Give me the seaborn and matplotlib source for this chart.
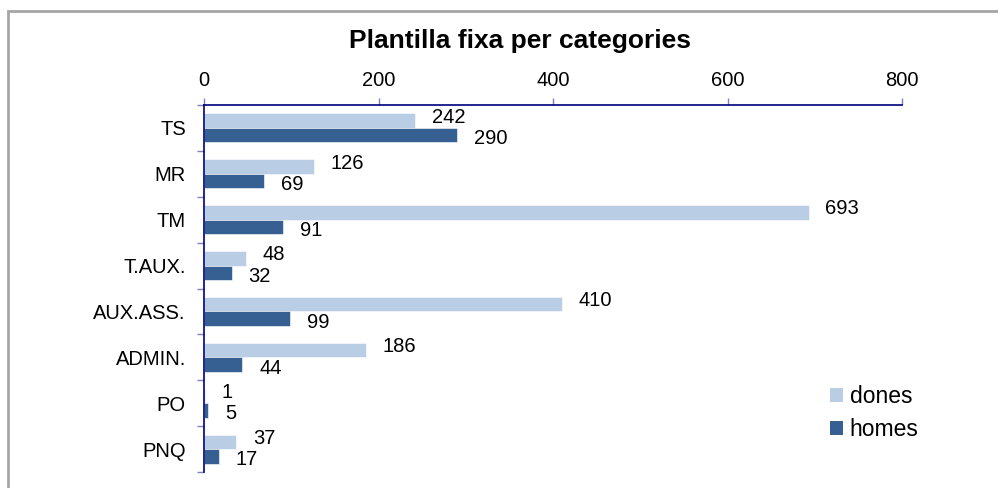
import matplotlib
matplotlib.use("Agg")
import matplotlib.pyplot as plt
from matplotlib.patches import Rectangle, Patch
import seaborn as sns
import pandas as pd

categories = ["TS", "MR", "TM", "T.AUX.", "AUX.ASS.", "ADMIN.", "PO", "PNQ"]
dones = [242, 126, 693, 48, 410, 186, 1, 37]
homes = [290, 69, 91, 32, 99, 44, 5, 17]
series = ["dones", "homes"]
colors = ["#B9CDE5", "#376092"]
x_ticks = [0, 200, 400, 600, 800]

df = pd.DataFrame({
    "categoria": categories * 2,
    "valor": dones + homes,
    "sexe": ["dones"] * len(categories) + ["homes"] * len(categories),
})

sns.set_style("white")
plt.rcParams["font.family"] = ["Liberation Sans", "DejaVu Sans"]
plt.rcParams["text.color"] = "black"
plt.rcParams["xtick.labelcolor"] = "black"
plt.rcParams["ytick.labelcolor"] = "black"

W, H = 998, 488
fig = plt.figure(figsize=(W / 100, H / 100), dpi=100)
ax = fig.add_axes([204 / W, 1 - 472 / H, (902 - 204) / W, (472 - 105) / H])

sns.barplot(data=df, y="categoria", x="valor", hue="sexe", order=categories,
            hue_order=series, palette=colors, orient="h", width=0.63,
            edgecolor="white", linewidth=0.4, saturation=1, ax=ax, legend=False)

ax.set_xlim(0, 800)
ax.set_ylim(len(categories) - 0.5, -0.5)
ax.set_xlabel("")
ax.set_ylabel("")

# value axis on top
ax.xaxis.tick_top()
ax.set_xticks(x_ticks)
ax.set_xticklabels([str(t) for t in x_ticks])
ax.tick_params(axis="x", which="major", direction="out", length=5, width=1,
               color="#7F7FBF", labelcolor="black", labelsize=14.5, pad=6,
               top=True, bottom=False)

# category labels centred, tick marks at the category boundaries
ax.set_yticks(range(len(categories)))
ax.set_yticklabels(categories)
ax.tick_params(axis="y", which="major", length=0, labelsize=14.5, pad=13,
               labelcolor="black")
ax.set_yticks([i - 0.5 for i in range(len(categories) + 1)], minor=True)
ax.tick_params(axis="y", which="minor", direction="out", length=5, width=1,
               color="#7F7FBF", left=True)

for side in ["bottom", "right"]:
    ax.spines[side].set_visible(False)
for side in ["top", "left"]:
    ax.spines[side].set_visible(True)
    ax.spines[side].set_color("#000080")
    ax.spines[side].set_linewidth(1.2)

# value labels
for cont, vals, dy in zip(ax.containers, [dones, homes], [2.5, -2.5]):
    for bar, v in zip(cont, vals):
        yc = bar.get_y() + bar.get_height() / 2
        ax.annotate(str(v), xy=(v, yc), xytext=(12, dy),
                    textcoords="offset points", ha="left", va="center",
                    fontsize=14.5, color="black", annotation_clip=False)

handles = [Patch(facecolor=c, edgecolor="none") for c in colors]
leg = fig.legend(handles, series, loc="upper left",
                 bbox_to_anchor=(821 / W, 1 - 376 / H), frameon=False,
                 fontsize=16.5, handlelength=0.55, handleheight=0.55,
                 handletextpad=0.3, labelspacing=0.42, borderaxespad=0)
for t in leg.get_texts():
    t.set_color("black")

fig.text(520 / W, 1 - 41 / H, "Plantilla fixa per categories",
         ha="center", va="center", fontsize=19, fontweight="bold",
         color="black")

# chart area frame
fig.patches.append(Rectangle((8 / W, -0.1), 1.2, 1.1 - 11 / H,
                             transform=fig.transFigure, fill=False,
                             edgecolor="#A6A6A6", linewidth=2))

fig.savefig("out.png", dpi=100, facecolor="white")
